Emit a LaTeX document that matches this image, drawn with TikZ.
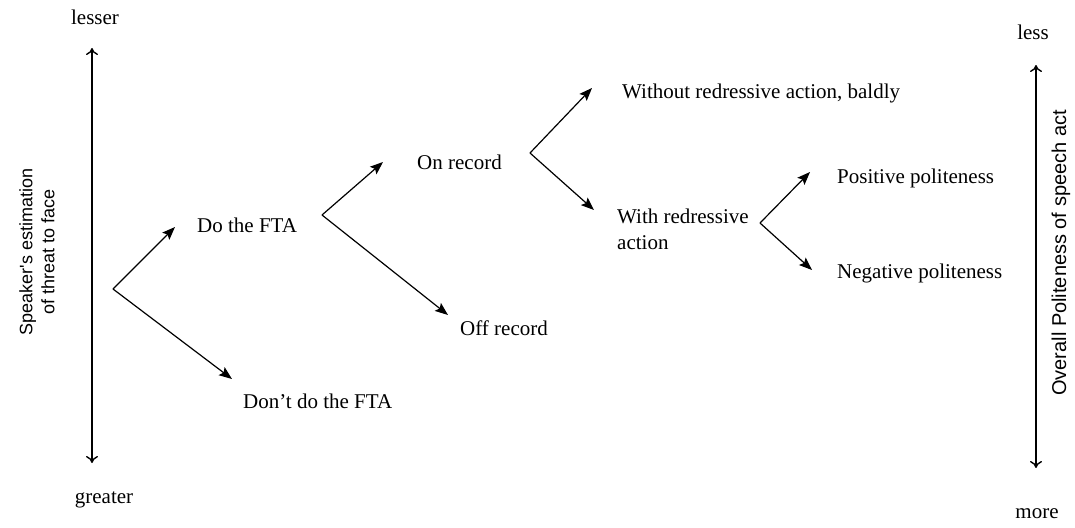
\documentclass[tikz,border=0pt]{standalone}
\usepackage{fontspec}
\setmainfont{Liberation Serif}
\newfontfamily\axisfont{Liberation Sans}
\usetikzlibrary{arrows.meta}
\tikzset{
  lbl/.style={inner sep=0pt, font=\fontsize{21}{26}\selectfont, text=black},
  axislbl/.style={inner sep=0pt, font=\axisfont\fontsize{18}{22}\selectfont, rotate=90, align=center},
  branch/.style={line width=1.2pt, -{Stealth[length=13pt,width=10pt,inset=2.5pt]}},
  scale arrow/.style={line width=1.4pt, {To[length=7pt,width=12pt]}-{To[length=7pt,width=12pt]}}
}
\begin{document}
\begin{tikzpicture}[x=1pt,y=-1pt]
\useasboundingbox (0,0) rectangle (1075,527);
% axes
\coordinate (lt) at (92,48);
\coordinate (lb) at (92,463);
\coordinate (rt) at (1036,65);
\coordinate (rb) at (1036,468);
\node[lbl] (lesser) at (95,17) {lesser};
\node[lbl] (greater) at (104,500) {greater};
\node[lbl] (less) at (1033,32) {less};
\node[lbl] (more) at (1037,514) {more};
\node[axislbl] (threat) at (37,252) {Speaker's estimation\\of threat to face};
\node[axislbl, font=\axisfont\fontsize{20}{24}\selectfont] (overall) at (1061,253) {Overall Politeness of speech act};
\draw[scale arrow] (lt) -- (lb);
\draw[scale arrow] (rt) -- (rb);
% labels
\node[lbl, anchor=west] (do) at (197,225) {Do the FTA};
\node[lbl, anchor=west] (dont) at (243,401) {Don't do the FTA};
\node[lbl, anchor=west] (on) at (417,162) {On record};
\node[lbl, anchor=west] (off) at (460,328) {Off record};
\node[lbl, anchor=west] (without) at (622,93) {Without redressive action, baldly};
\node[lbl, anchor=west, align=left] (with) at (617,229) {With redressive\\action};
\node[lbl, anchor=west] (pos) at (837,178) {Positive politeness};
\node[lbl, anchor=west] (neg) at (837,273) {Negative politeness};
% forks and tips
\coordinate (f1) at (113,289);
\coordinate (t1) at (175,227);
\coordinate (t2) at (232,379);
\coordinate (f2) at (322,215);
\coordinate (t3) at (383,162);
\coordinate (t4) at (448,315);
\coordinate (f3) at (530,153);
\coordinate (t5) at (592,88);
\coordinate (t6) at (594,210);
\coordinate (f4) at (760,223);
\coordinate (t7) at (810,172);
\coordinate (t8) at (812,270);
\draw[branch] (f1) -- (t1);
\draw[branch] (f1) -- (t2);
\draw[branch] (f2) -- (t3);
\draw[branch] (f2) -- (t4);
\draw[branch] (f3) -- (t5);
\draw[branch] (f3) -- (t6);
\draw[branch] (f4) -- (t7);
\draw[branch] (f4) -- (t8);
\end{tikzpicture}
\end{document}
